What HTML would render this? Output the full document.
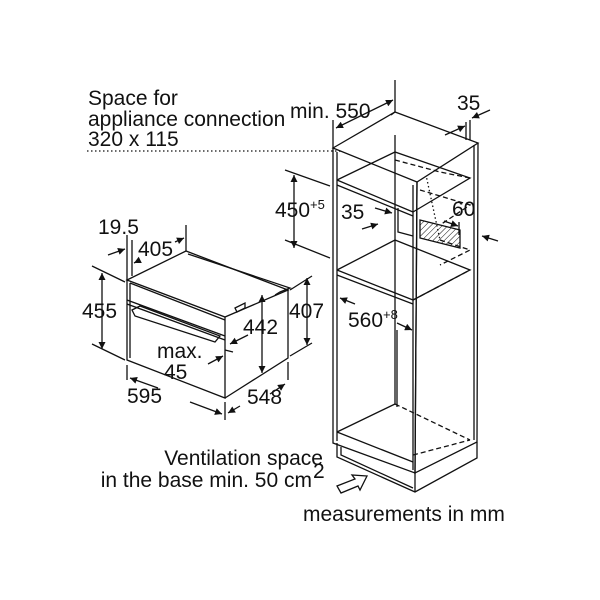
<!DOCTYPE html>
<html><head><style>html,body{margin:0;padding:0;background:#fff}svg{display:block}text{font-family:"Liberation Sans",sans-serif;fill:#111;font-size:21px}</style></head>
<body>
<svg width="600" height="600" viewBox="0 0 600 600" xmlns="http://www.w3.org/2000/svg">
<defs>
<marker id="a" viewBox="0 0 10 10" refX="10" refY="5" markerWidth="9" markerHeight="7" orient="auto-start-reverse" markerUnits="userSpaceOnUse"><path d="M0,0 L10,5 L0,10 z" fill="#111"/></marker>
<pattern id="h" width="4" height="4" patternUnits="userSpaceOnUse" patternTransform="rotate(45)"><line x1="0" y1="0" x2="0" y2="4" stroke="#111" stroke-width="1"/></pattern>
</defs>
<g fill="none" stroke="#111" stroke-width="1.3">
<path d="M87,151 L333,151 L420,152 L426,175 L440,240" stroke-dasharray="1.5,2.5" stroke-width="1.3"/>
<path d="M333,148 L395,112 L478,143 L417,182 Z" fill="#fff"/>
<path d="M333,148 L333,443 L415,473 L417,182"/>
<path d="M337,152 L337,441 M413,185 L413,470"/>
<path d="M417,182 L415,473 L477,442 L478,143"/>
<path d="M391,115 L395,112 M474,145 L474,440"/>
<path d="M337,180 L413,212 M337,185 L413,216 M337,180 L395,152 L470,178 L413,212"/>
<path d="M337,270 L413,300 M337,275 L413,304 M337,270 L395,240 L470,270 L413,300"/>
<path d="M337,432 L413,462 M337,432 L395,404"/>
<path d="M395,160 L440,172 L470,178 M420,190 L470,205 L440,225 M440,240 L470,250 L440,265 M413,300 L470,270 M413,455 L470,440 M395,404 L470,440" stroke-dasharray="5,3"/>
<path d="M395,404 L395,135"/>
<path d="M398,208 L398,232 L413,236"/>
<polygon points="420,220 460,230 460,248 420,238" fill="url(#h)"/>
<path d="M337,443 L337,457 L415,492 L477,458 L477,442 M415,473 L415,492 M341,447 L341,455 L413,488"/>
<path d="M367,476 L352,475 L355,479 L337,486 L341,493 L358,486 L360,490 Z" fill="#fff"/>
<path d="M333,148 L333,120 M395,112 L395,80"/>
<line x1="336" y1="128" x2="393" y2="100" marker-start="url(#a)" marker-end="url(#a)"/>
<path d="M466,140 L466,122 M470,140 L470,120"/>
<line x1="445" y1="135" x2="465" y2="126" marker-end="url(#a)"/>
<line x1="490" y1="110" x2="472" y2="118" marker-end="url(#a)"/>
<path d="M285,170 L330,186 M285,240 L330,258"/>
<line x1="294" y1="175" x2="294" y2="248" marker-start="url(#a)" marker-end="url(#a)"/>
<line x1="375" y1="208" x2="392" y2="213" marker-end="url(#a)"/>
<line x1="362" y1="229" x2="378" y2="224" marker-end="url(#a)"/>
<path d="M459,222 L459,235"/>
<line x1="444" y1="221" x2="458" y2="226" marker-end="url(#a)"/>
<line x1="498" y1="241" x2="482" y2="236" marker-end="url(#a)"/>
<line x1="340" y1="298" x2="355" y2="304" marker-start="url(#a)"/>
<line x1="397" y1="323" x2="412" y2="330" marker-end="url(#a)"/>
<path d="M397,330 L397,407"/>
<path d="M127,280 L186,251 L288,290 L225,317 Z" fill="#fff"/>
<path d="M127,280 L127,360 L225,398 L225,317 M225,398 L288,358 L288,290"/>
<path d="M130,283 L225,320 M127,300 L225,336 M127,304 L225,340 M130,283 L130,358"/>
<path d="M188,254 L290,288 L280,292 L275,295"/>
<path d="M132,310 L140,306 L220,336 L215,342 L135,316 Z M235,308 L245,303 L245,308 L237,312 Z"/>
<path d="M127,280 L127,235 M132,276 L132,240 M186,251 L186,225"/>
<line x1="108" y1="255" x2="125" y2="249" marker-end="url(#a)"/>
<line x1="134" y1="263" x2="140" y2="260" marker-start="url(#a)"/>
<line x1="175" y1="242" x2="184" y2="238" marker-end="url(#a)"/>
<path d="M92,266 L125,282 M92,344 L125,360"/>
<line x1="102" y1="273" x2="102" y2="349" marker-start="url(#a)" marker-end="url(#a)"/>
<line x1="262" y1="295" x2="262" y2="373" marker-start="url(#a)" marker-end="url(#a)"/>
<path d="M290,290 L312,276 M290,356 L312,343"/>
<line x1="307" y1="278" x2="307" y2="345" marker-start="url(#a)" marker-end="url(#a)"/>
<line x1="248" y1="335" x2="230" y2="344" marker-end="url(#a)"/>
<line x1="208" y1="364" x2="223" y2="356" marker-end="url(#a)"/>
<path d="M225,350 L233,352"/>
<path d="M127,365 L127,380 M225,402 L225,420 M288,362 L288,380"/>
<line x1="130" y1="378" x2="158" y2="388" marker-start="url(#a)"/>
<line x1="190" y1="402" x2="222" y2="414" marker-end="url(#a)"/>
<line x1="228" y1="413" x2="240" y2="406" marker-start="url(#a)"/>
<line x1="270" y1="394" x2="285" y2="384" marker-end="url(#a)"/>
</g>
<text x="88" y="105">Space for</text>
<text x="88" y="126">appliance connection</text>
<text x="88" y="146">320 x 115</text>
<text x="290" y="118">min. 550</text>
<text x="457" y="110">35</text>
<text x="275" y="217">450<tspan font-size="13" dy="-8">+5</tspan></text>
<text x="341" y="219">35</text>
<text x="452" y="216">60</text>
<text x="98" y="234">19.5</text>
<text x="138" y="256">405</text>
<text x="82" y="318">455</text>
<text x="243" y="334">442</text>
<text x="289" y="318">407</text>
<text x="157" y="358">max.</text>
<text x="164" y="379">45</text>
<text x="127" y="403">595</text>
<text x="247" y="404">548</text>
<text x="348" y="327">560<tspan font-size="13" dy="-8">+8</tspan></text>
<text x="323" y="465" text-anchor="end">Ventilation space</text>
<text x="312" y="487" text-anchor="end">in the base min. 50 cm</text>
<text x="313" y="478" font-size="13">2</text>
<text x="303" y="521" font-size="22">measurements in mm</text>
</svg>
</body></html>
